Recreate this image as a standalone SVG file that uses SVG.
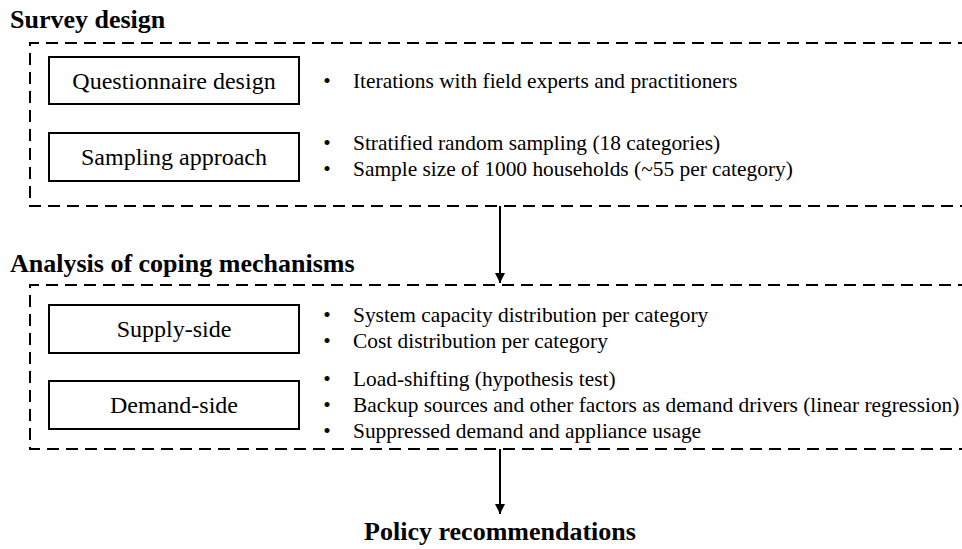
<svg xmlns="http://www.w3.org/2000/svg" width="962" height="549" viewBox="0 0 962 549">
<defs>
<style>
.hd{font-family:"Liberation Serif","Times New Roman",serif;font-weight:bold;font-size:26px;fill:#000}
.nt{font-family:"Liberation Serif","Times New Roman",serif;font-size:24px;fill:#000}
.bt{font-family:"Liberation Serif","Times New Roman",serif;font-size:21.4px;fill:#000}
.box{fill:#fff;stroke:#000;stroke-width:2}
.dash{fill:none;stroke:#000;stroke-width:2;stroke-dasharray:12 7}
.conn{fill:none;stroke:#000;stroke-width:2}
</style>
<marker id="ah" viewBox="0 0 10 10" refX="10" refY="5" markerWidth="5" markerHeight="5" orient="auto" markerUnits="strokeWidth">
<path d="M0,0 L10,5 L0,10 Z" fill="#000"/>
</marker>
</defs>
<rect width="962" height="549" fill="#fff"/>

<g id="survey-design">
<text class="hd" x="10" y="28">Survey design</text>
<path class="dash" d="M970,43 H30 V206 H970"/>
</g>

<g id="analysis">
<text class="hd" x="10" y="272">Analysis of coping mechanisms</text>
<path class="dash" d="M970,285 H30 V449 H970"/>
</g>

<g id="questionnaire">
<rect class="box" x="49" y="57" width="250" height="47"/>
<text class="nt" x="174" y="89" text-anchor="middle">Questionnaire design</text>
<text class="bt" x="327" y="88" text-anchor="middle">•</text>
<text class="bt" x="353" y="88">Iterations with field experts and practitioners</text>
</g>

<g id="sampling">
<rect class="box" x="49" y="133" width="250" height="48"/>
<text class="nt" x="174" y="165" text-anchor="middle">Sampling approach</text>
<text class="bt" x="327" y="150" text-anchor="middle">•</text>
<text class="bt" x="353" y="150">Stratified random sampling (18 categories)</text>
<text class="bt" x="327" y="176" text-anchor="middle">•</text>
<text class="bt" x="353" y="176">Sample size of 1000 households (~55 per category)</text>
</g>

<g id="supply">
<rect class="box" x="49" y="305" width="250" height="48"/>
<text class="nt" x="174" y="337" text-anchor="middle">Supply-side</text>
<text class="bt" x="327" y="322" text-anchor="middle">•</text>
<text class="bt" x="353" y="322">System capacity distribution per category</text>
<text class="bt" x="327" y="348" text-anchor="middle">•</text>
<text class="bt" x="353" y="348">Cost distribution per category</text>
</g>

<g id="demand">
<rect class="box" x="49" y="381" width="250" height="48"/>
<text class="nt" x="174" y="413" text-anchor="middle">Demand-side</text>
<text class="bt" x="327" y="386" text-anchor="middle">•</text>
<text class="bt" x="353" y="386">Load-shifting (hypothesis test)</text>
<text class="bt" x="327" y="412" text-anchor="middle">•</text>
<text class="bt" x="353" y="412">Backup sources and other factors as demand drivers (linear regression)</text>
<text class="bt" x="327" y="438" text-anchor="middle">•</text>
<text class="bt" x="353" y="438">Suppressed demand and appliance usage</text>
</g>

<g id="policy">
<text class="hd" x="500" y="540" text-anchor="middle">Policy recommendations</text>
</g>

<g id="connectors">
<line class="conn" x1="500" y1="206" x2="500" y2="283" marker-end="url(#ah)"/>
<line class="conn" x1="500" y1="449" x2="500" y2="514" marker-end="url(#ah)"/>
</g>
</svg>
